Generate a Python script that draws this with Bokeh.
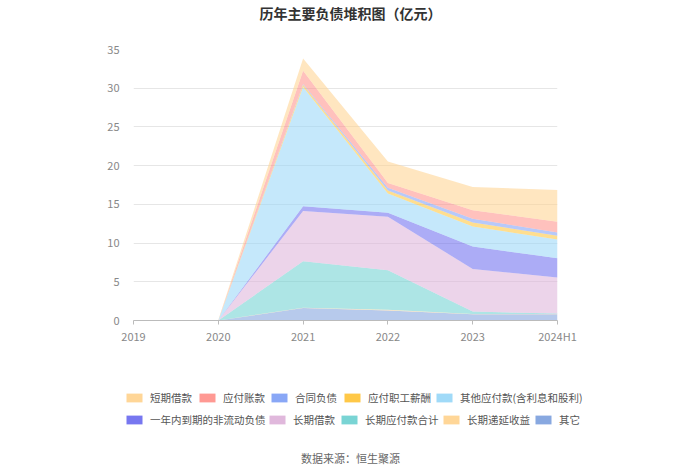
from bokeh.plotting import figure
from bokeh.models import (ColumnDataSource, Range1d, FixedTicker, Legend, LegendItem, Label)
from bokeh.layouts import column
from bokeh.embed import file_html
from bokeh.resources import INLINE

categories = ["2019", "2020", "2021", "2022", "2023", "2024H1"]

duanqi_jiekuan = [0.05, 0.05, 1.6, 2.8, 3.0, 4.1]
yingfu_zhangkuan = [0.0, 0.0, 1.7, 0.6, 1.1, 1.4]
hetong_fuzhai = [0.0, 0.0, 0.1, 0.35, 0.5, 0.4]
yingfu_zhigong = [0.03, 0.03, 0.3, 0.4, 0.5, 0.5]
qita_yingfu = [0.0, 0.0, 15.4, 2.5, 2.6, 2.4]
yinian_daoqi = [0.0, 0.0, 0.6, 0.5, 2.9, 2.5]
changqi_jiekuan = [0.0, 0.0, 6.5, 6.9, 5.5, 4.65]
changqi_yingfu = [0.0, 0.0, 6.0, 5.1, 0.3, 0.05]
changqi_diyan = [0.0, 0.0, 0.05, 0.1, 0.05, 0.05]
qita = [0.0, 0.0, 1.6, 1.3, 0.8, 0.8]

legend_names = ["短期借款", "应付账款", "合同负债", "应付职工薪酬", "其他应付款(含利息和股利)",
                "一年内到期的非流动负债", "长期借款", "长期应付款合计", "长期递延收益", "其它"]
series = [duanqi_jiekuan, yingfu_zhangkuan, hetong_fuzhai, yingfu_zhigong, qita_yingfu,
          yinian_daoqi, changqi_jiekuan, changqi_yingfu, changqi_diyan, qita]
colors = ["#FFD28C", "#FF8E87", "#7C9DF5", "#FFC233", "#96D6F7",
          "#6868EE", "#DDB0D8", "#6ACFCF", "#FFD28C", "#7B9EDD"]

FONT = "Noto Sans CJK SC"

keys = ["s%d" % i for i in range(len(series))]
data = {"x": list(range(len(categories)))}
for k, s in zip(keys, series):
    data[k] = s
source = ColumnDataSource(data)


def bare(fig):
    fig.min_border_left = 0
    fig.min_border_right = 0
    fig.min_border_top = 0
    fig.min_border_bottom = 0
    fig.axis.visible = False
    fig.grid.visible = False
    fig.outline_line_color = None
    fig.background_fill_color = "white"
    fig.border_fill_color = "white"
    fig.frame_align = False


# ---- title strip ----
TITLE_H = 30
t = figure(width=700, height=TITLE_H, output_backend="svg", toolbar_location=None,
           x_range=Range1d(0, 700), y_range=Range1d(0, TITLE_H))
bare(t)
t.add_layout(Label(x=350, y=TITLE_H - 12, x_units="screen", y_units="screen",
                   text="历年主要负债堆积图（亿元）", text_align="center", text_baseline="middle",
                   text_font=FONT, text_font_size="14px", text_font_style="bold",
                   text_color="#333333"))

# ---- main chart ----
MAIN_H = 320
p = figure(width=700, height=MAIN_H, output_backend="svg", toolbar_location=None,
           x_range=Range1d(0, len(categories) - 1), y_range=Range1d(0, 35))
p.min_border_left = 133
p.min_border_right = 143
p.min_border_top = 49 - TITLE_H
p.min_border_bottom = TITLE_H + MAIN_H - 320
p.outline_line_color = None
p.background_fill_color = "white"
p.border_fill_color = "white"
p.frame_align = False

stack_keys = keys[::-1]
stack_colors = colors[::-1]
p.varea_stack(stackers=stack_keys, x="x", color=stack_colors, fill_alpha=0.55, source=source)

p.xaxis.ticker = FixedTicker(ticks=list(range(len(categories))))
p.xaxis.major_label_overrides = {i: c for i, c in enumerate(categories)}
p.xaxis.axis_line_color = "#bbbbbb"
p.xaxis.major_tick_line_color = "#bbbbbb"
p.xaxis.major_tick_in = 0
p.xaxis.major_tick_out = 4
p.xaxis.minor_tick_line_color = None
p.xaxis.major_label_text_color = "#888888"
p.xaxis.major_label_text_font = FONT
p.xaxis.major_label_text_font_size = "11px"
p.xaxis.major_label_standoff = 3

p.yaxis.ticker = FixedTicker(ticks=[0, 5, 10, 15, 20, 25, 30, 35])
p.yaxis.axis_line_color = None
p.yaxis.major_tick_line_color = None
p.yaxis.minor_tick_line_color = None
p.yaxis.major_label_text_color = "#888888"
p.yaxis.major_label_text_font = FONT
p.yaxis.major_label_text_font_size = "11px"
p.yaxis.major_label_standoff = 8

p.xgrid.grid_line_color = None
p.ygrid.grid_line_color = "#e6e6e6"
p.ygrid.ticker = FixedTicker(ticks=[5, 10, 15, 20, 25, 30, 35])

# ---- legend + source strip ----
TOP_LEG = TITLE_H + MAIN_H
LEG_H = 474 - TOP_LEG
q = figure(width=700, height=LEG_H, output_backend="svg", toolbar_location=None,
           x_range=Range1d(0, len(categories) - 1), y_range=Range1d(100, 200))
bare(q)

row1_x = [124, 197, 269, 342, 434]
row2_x = [124, 267, 339, 441, 533]
row1_y = LEG_H - (405 - TOP_LEG)
row2_y = LEG_H - (426.5 - TOP_LEG)
positions = [(x, row1_y) for x in row1_x] + [(x, row2_y) for x in row2_x]
for name, col, s, pos in zip(legend_names, colors, series, positions):
    r = q.varea(x=data["x"], y1=0, y2=s, fill_color=col, fill_alpha=0.9, visible=False)
    leg = Legend(items=[LegendItem(label=name, renderers=[r])], location=pos,
                 orientation="horizontal", padding=0, margin=0, spacing=0,
                 border_line_alpha=0, background_fill_alpha=0,
                 glyph_width=20, glyph_height=11, label_standoff=6, label_height=11,
                 label_text_font=FONT, label_text_font_size="10.5px", label_text_color="#555555")
    q.add_layout(leg, "center")

q.add_layout(Label(x=350, y=LEG_H - (457 - TOP_LEG), x_units="screen", y_units="screen",
                   text="数据来源：恒生聚源", text_align="center", text_baseline="middle",
                   text_font=FONT, text_font_size="11px", text_color="#666666"))

layout = column(t, p, q, spacing=0)
open("out.html", "w").write(file_html(layout, INLINE))
